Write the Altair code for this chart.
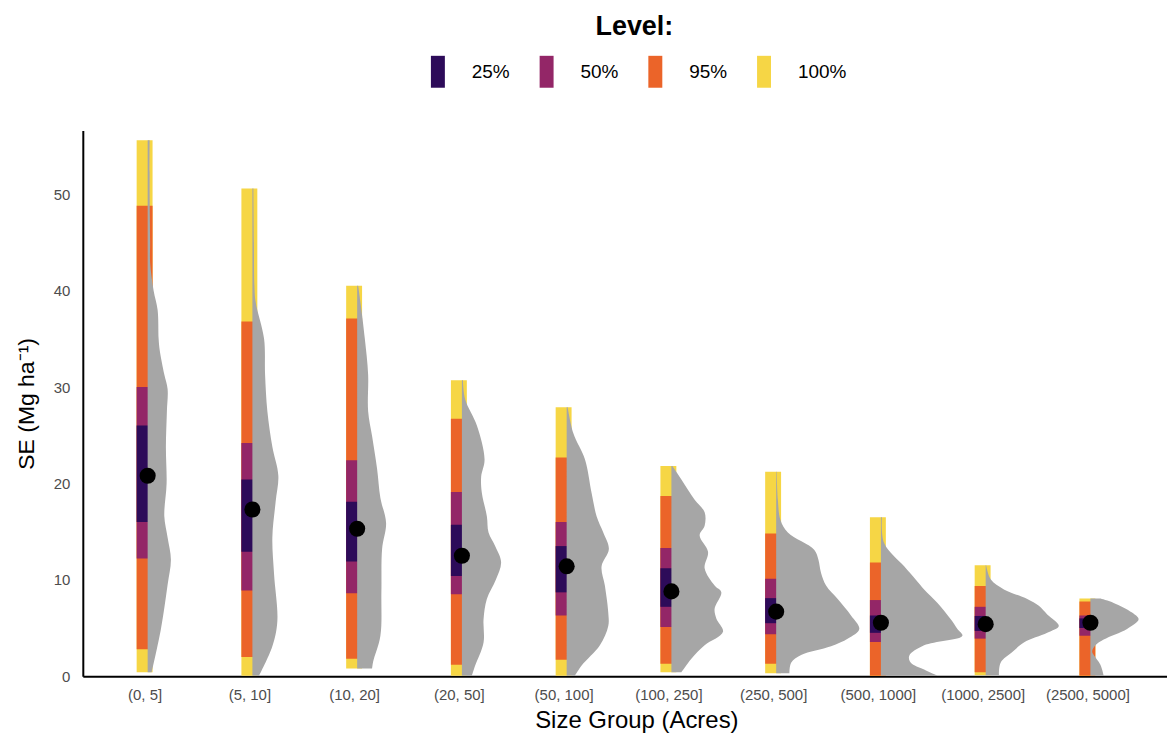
import json
import altair as alt
import pandas as pd

# ---------------- data ----------------
groups = ["(0, 5]", "(5, 10]", "(10, 20]", "(20, 50]", "(50, 100]",
          "(100, 250]", "(250, 500]", "(500, 1000]", "(1000, 2500]", "(2500, 5000]"]
levels = ["25%", "50%", "95%", "100%"]
level_colors = ["#2D0B59", "#932667", "#EB6429", "#F6D645"]

hi100 = [55.6, 50.6, 40.5, 30.7, 27.9, 21.8, 21.2, 16.5, 11.5, 8.05]
hi95 = [48.8, 36.8, 37.1, 26.7, 22.7, 18.7, 14.8, 11.8, 9.35, 7.75]
hi50 = [30.0, 24.2, 22.4, 19.1, 16.0, 13.3, 10.1, 7.9, 7.2, 6.3]
hi25 = [26.0, 20.4, 18.1, 15.7, 13.5, 11.2, 8.1, 6.3, 6.25, 6.0]
median = [20.8, 17.3, 15.3, 12.5, 11.4, 8.8, 6.7, 5.55, 5.4, 5.55]
lo25 = [16.0, 12.9, 11.9, 10.4, 8.7, 7.2, 5.5, 4.5, 4.7, 5.0]
lo50 = [12.2, 8.9, 8.6, 8.5, 6.3, 5.1, 4.35, 3.55, 3.9, 4.2]
lo95 = [2.8, 2.0, 1.8, 1.2, 1.7, 1.3, 1.3, 0.05, 0.4, 0.05]
lo100 = [0.4, 0.05, 0.8, 0.05, 0.05, 0.4, 0.3, 0.03, 0.1, 0.03]

# density profiles (value, relative density width) per group, top to bottom
dens_y_1 = [55.6, 50.0, 45.0, 42.9, 40.0, 38.0, 35.0, 33.9, 31.3, 29.8, 27.5, 23.8, 20.0, 16.6, 14.4, 12.1, 9.5, 4.9, 0.4]
dens_w_1 = [2.0, 2.0, 2.5, 2.5, 6.0, 10.0, 11.0, 12.0, 16.7, 20.0, 19.3, 18.3, 19.0, 16.7, 20.0, 23.3, 20.0, 13.3, 4.0]
dens_y_2 = [50.6, 45.0, 40.5, 38.8, 35.0, 31.3, 27.5, 23.8, 20.8, 18.1, 14.4, 10.6, 5.7, 3.1, 0.05]
dens_w_2 = [1.0, 1.5, 2.0, 3.3, 11.7, 12.7, 15.0, 20.0, 26.0, 23.3, 20.0, 21.7, 25.0, 20.0, 6.7]
dens_y_3 = [40.5, 38.8, 35.0, 31.3, 27.5, 24.9, 21.5, 18.5, 15.9, 13.2, 8.7, 4.2, 1.5, 0.8]
dens_w_3 = [1.0, 3.3, 7.7, 11.0, 11.0, 15.0, 20.0, 23.3, 29.0, 25.0, 24.3, 23.3, 16.0, 15.0]
dens_y_4 = [30.7, 28.7, 26.0, 22.5, 20.7, 19.0, 16.6, 14.9, 13.5, 11.8, 10.0, 8.0, 5.9, 3.5, 1.1, 0.05]
dens_w_4 = [1.0, 3.3, 15.0, 22.7, 19.3, 20.0, 25.0, 26.7, 33.3, 39.3, 34.0, 25.0, 21.7, 21.7, 13.3, 10.0]
dens_y_5 = [27.9, 25.2, 22.5, 19.0, 16.6, 14.9, 13.2, 11.4, 9.4, 6.6, 5.2, 3.2, 1.1, 0.05]
dens_w_5 = [1.0, 6.7, 18.3, 25.0, 30.0, 36.7, 42.3, 35.0, 38.3, 41.7, 41.7, 33.3, 15.0, 8.3]
dens_y_6 = [21.8, 20.4, 18.3, 17.0, 15.6, 14.6, 12.9, 11.2, 9.4, 8.7, 7.0, 6.0, 4.6, 3.2, 1.8, 0.4]
dens_w_6 = [1.0, 10.0, 23.3, 33.3, 33.3, 28.3, 36.7, 33.3, 43.3, 50.0, 43.3, 45.0, 51.7, 33.3, 20.0, 10.0]
dens_y_7 = [21.2, 18.3, 16.2, 14.9, 13.1, 12.1, 10.7, 9.4, 8.0, 6.3, 4.9, 3.9, 3.1, 2.2, 1.4, 0.3]
dens_w_7 = [0.5, 1.7, 4.3, 11.7, 38.3, 42.3, 45.0, 50.0, 61.7, 75.0, 83.3, 72.0, 55.0, 25.0, 15.0, 13.3]
dens_y_8 = [16.5, 13.8, 11.4, 10.0, 9.0, 7.6, 5.9, 4.9, 4.2, 3.2, 2.1, 1.4, 0.7, 0.05]
dens_w_8 = [1.0, 3.3, 23.3, 35.0, 43.3, 56.7, 70.0, 76.7, 81.7, 43.3, 28.3, 30.0, 43.3, 56.7]
dens_y_9 = [11.5, 10.05, 9.0, 8.0, 7.3, 6.4, 5.2, 4.5, 3.5, 2.5, 1.4, 0.1]
dens_w_9 = [0.5, 5.0, 18.3, 41.7, 53.3, 61.7, 73.3, 61.7, 38.3, 26.7, 15.0, 13.3]
dens_y_10 = [8.05, 7.6, 6.6, 5.9, 4.9, 3.8, 3.2, 2.6, 2.2, 1.2, 0.05]
dens_w_10 = [10.0, 23.3, 41.7, 48.3, 36.7, 13.3, 5.0, 1.7, 3.3, 10.0, 13.3]

y_ticks = [0, 10, 20, 30, 40, 50]

# ---------------- build tables ----------------
BAR_HALF = 0.076      # half width of the interval bar (x units)
SLAB_OFF = 0.029      # slab baseline offset from category position
DENS_SCALE = 1 / 105  # density width -> x units

bar_rows = []
for i, g in enumerate(groups):
    segs = [("100%", lo100[i], hi100[i]), ("95%", lo95[i], hi95[i]),
            ("50%", lo50[i], hi50[i]), ("25%", lo25[i], hi25[i])]
    for k, (lev, lo, hi) in enumerate(segs):
        bar_rows.append({"group": g, "level": lev, "lo": lo, "hi": hi,
                         "x0": i - BAR_HALF, "x1": i + BAR_HALF, "ord": i * 10 + k})
bars_df = pd.DataFrame(bar_rows)

dens_y = [dens_y_1, dens_y_2, dens_y_3, dens_y_4, dens_y_5, dens_y_6, dens_y_7, dens_y_8, dens_y_9, dens_y_10]
dens_w = [dens_w_1, dens_w_2, dens_w_3, dens_w_4, dens_w_5, dens_w_6, dens_w_7, dens_w_8, dens_w_9, dens_w_10]
dens_rows = []
for i, g in enumerate(groups):
    for yv, wv in zip(dens_y[i], dens_w[i]):
        dens_rows.append({"group": g, "val": yv, "xb": i + SLAB_OFF,
                          "xr": i + SLAB_OFF + wv * DENS_SCALE})
dens_df = pd.DataFrame(dens_rows).sort_values(["group", "val"]).reset_index(drop=True)

pt_df = pd.DataFrame({"group": groups, "xp": [i + SLAB_OFF for i in range(len(groups))],
                      "median": median})

# ---------------- chart ----------------
FONT = "Liberation Sans"
xscale = alt.Scale(domain=[-0.59, 9.76], nice=False, zero=False)
yscale = alt.Scale(domain=[0, 56.6], nice=False, zero=False)

label_expr = json.dumps(groups) + "[round(datum.value)]"

xaxis = alt.Axis(values=list(range(len(groups))), labelExpr=label_expr,
                 title="Size Group (Acres)", grid=False, ticks=False,
                 domainColor="black", domainWidth=2, labelColor="#4D4D4D",
                 labelFontSize=15, labelPadding=11, labelFlush=False,
                 labelOverlap=False, labelFont=FONT,
                 titleFont=FONT, titleFontSize=24, titleFontWeight="normal",
                 titleColor="black", titleBaseline="middle", titleAlign="center",
                 titleX=555, titleY=44)
yaxis = alt.Axis(values=y_ticks, title="SE (Mg ha⁻¹)", grid=False, ticks=False,
                 domainColor="black", domainWidth=2, labelColor="#4D4D4D",
                 labelFontSize=15, labelPadding=13, labelFont=FONT,
                 titleFont=FONT, titleFontSize=23, titleFontWeight="normal",
                 titleColor="black", titleAngle=270, titleBaseline="middle",
                 titleAlign="center", titleX=-56, titleY=273.5)

legend = alt.Legend(title="Level:", orient="none", legendX=340, legendY=-117,
                    direction="horizontal",
                    symbolType="M-0.4375,-1L0.4375,-1L0.4375,1L-0.4375,1Z",
                    symbolSize=1024, symbolStrokeWidth=0, symbolOpacity=1,
                    labelFontSize=19, labelOffset=18, columnPadding=20,
                    labelFont=FONT, labelColor="black",
                    titleFont=FONT, titleFontSize=27, titleFontWeight="bold",
                    titleColor="black", titleAnchor="middle", titlePadding=15)

bars = alt.Chart(bars_df).mark_bar(opacity=1).encode(
    x=alt.X("x0:Q", scale=xscale, axis=xaxis),
    x2="x1:Q",
    y=alt.Y("lo:Q", scale=yscale, axis=yaxis),
    y2="hi:Q",
    color=alt.Color("level:N", scale=alt.Scale(domain=levels, range=level_colors),
                    legend=legend),
    order=alt.Order("ord:Q"),
)

slab = alt.Chart(dens_df).mark_area(orient="horizontal", color="#A6A6A6",
                                    opacity=1, interpolate="catmull-rom").encode(
    y=alt.Y("val:Q", scale=yscale, axis=yaxis),
    x=alt.X("xr:Q", scale=xscale, axis=xaxis, stack=None),
    x2="xb:Q",
    detail="group:N",
)

dots = alt.Chart(pt_df).mark_circle(size=260, color="black", opacity=1).encode(
    x=alt.X("xp:Q", scale=xscale, axis=xaxis),
    y=alt.Y("median:Q", scale=yscale, axis=yaxis),
)

chart = alt.layer(bars, slab, dots).properties(
    width=1087, height=547,
    padding={"left": 75, "top": 122, "right": 0, "bottom": 58},
    autosize=alt.AutoSizeParams(type="none"),
).configure(font=FONT).configure_view(stroke=None)

chart.save("out.html", embed_options={"renderer": "svg", "actions": False})
